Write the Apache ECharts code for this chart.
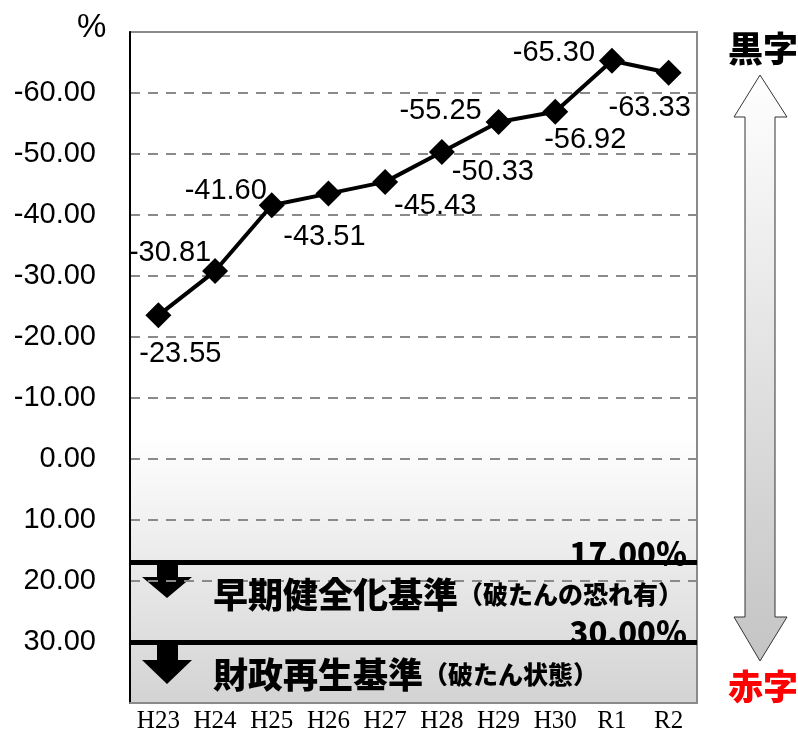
<!DOCTYPE html>
<html><head><meta charset="utf-8">
<script src="https://cdn.jsdelivr.net/npm/echarts@6/dist/echarts.min.js"></script>
<style>html,body{margin:0;padding:0;background:#fff}#c{width:798px;height:735px}</style>
</head><body><div id="c"></div>
<script>
const categories = ['H23','H24','H25','H26','H27','H28','H29','H30','R1','R2'];
const ratios = [-23.55,-30.81,-41.60,-43.51,-45.43,-50.33,-55.25,-56.92,-65.30,-63.33];
const thresholds = [17, 30];
const thresholdLabels = ['17.00％','30.00％'];
const bandTitles = ['早期健全化基準','財政再生基準'];
const bandNotes = ['（破たんの恐れ有）','（破たん状態）'];
const yMin = -70, yMax = 40, yStep = 10;

const labelOffsets = [[22,39],[-45,-18],[-46,-14],[-4,43],[50,24],[51,20],[-58,-11],[30,28],[-58,-8],[-19,35]];

const numFont = '"Liberation Sans", Arial, sans-serif';
const jpFont = '"Noto Sans CJK JP", sans-serif';

const chart = echarts.init(document.getElementById('c'));
chart.setOption({
  animation: false,
  grid: {left:130, top:32, right:101, bottom:32, show:true, borderColor:'#8a8a8a', borderWidth:2,
    backgroundColor: new echarts.graphic.LinearGradient(0,0,0,1,[
      {offset:0,color:'#ffffff'},{offset:0.6,color:'#ffffff'},{offset:1,color:'#d3d3d3'}])},
  xAxis: {type:'category', data:categories, boundaryGap:true,
    axisLine:{onZero:false, lineStyle:{color:'#8a8a8a', width:2}},
    axisTick:{inside:true, length:6, interval:0, lineStyle:{color:'#8a8a8a', width:1.5}},
    axisLabel:{color:'#000', fontFamily:'"Liberation Serif", serif', fontSize:25, margin:6, interval:0}},
  yAxis: {type:'value', inverse:true, min:yMin, max:yMax, interval:yStep,
    axisLine:{show:true, lineStyle:{color:'#000', width:2}},
    axisTick:{show:false},
    splitLine:{lineStyle:{color:'#8a8a8a', width:2, type:[10,8]}},
    axisLabel:{color:'#000', fontFamily:numFont, fontSize:29, margin:34,
      formatter: v => (v===yMin||v===yMax) ? '' : v.toFixed(2)}},
  series: [{
    type:'line',
    data: ratios.map((v,i)=>({value:v, label:{offset:labelOffsets[i]}})),
    symbol:'diamond', symbolSize:26,
    lineStyle:{color:'#000', width:4}, itemStyle:{color:'#000'},
    label:{show:true, position:'inside', color:'#000', fontFamily:numFont, fontSize:29,
      formatter: p => p.value.toFixed(2)},
    z:5,
    markLine:{silent:true, symbol:['none','none'],
      lineStyle:{color:'#000', width:5, type:'solid'},
      data: thresholds.map((t,i)=>({yAxis:t, label:{formatter:thresholdLabels[i]}})),
      label:{show:true, position:'insideEndTop', distance:[10,-6], color:'#000',
        fontFamily:jpFont, fontWeight:900, fontSize:31}},
    markArea:{silent:true,
      itemStyle:{color:'rgba(0,0,0,0)'},
      label:{show:true, position:'insideLeft', offset:[78,-6],
        rich:{t:{fontFamily:jpFont, fontWeight:900, fontSize:35, color:'#000'},
              n:{fontFamily:jpFont, fontWeight:900, fontSize:25, color:'#000'}}},
      data:[
        [{yAxis:thresholds[0], label:{formatter:'{t|'+bandTitles[0]+'}{n|'+bandNotes[0]+'}', offset:[78,-8]}},{yAxis:thresholds[1]}],
        [{yAxis:thresholds[1], label:{formatter:'{t|'+bandTitles[1]+'}{n|'+bandNotes[1]+'}', offset:[78,2]}},{yAxis:yMax}]
      ]}
  }],
  graphic: [
    {type:'text', left:77, top:11, style:{text:'%', font:'33px '+numFont, fill:'#000'}},
    {type:'polygon', shape:{points:[[157,562],[178,562],[178,577],[192,577],[167,598],[142,577],[157,577]]}, style:{fill:'#000'}},
    {type:'polygon', shape:{points:[[157,645],[178,645],[178,660],[192,660],[167,684],[142,660],[157,660]]}, style:{fill:'#000'}},
    {type:'polygon', shape:{points:[[760,75],[787,117],[775,117],[775,617],[787,617],[760,661],[734,617],[745,617],[745,117],[734,117]]},
      style:{fill:new echarts.graphic.LinearGradient(0,0,0,1,[{offset:0,color:'#ffffff'},{offset:1,color:'#c4c4c4'}]), stroke:'#333', lineWidth:1}},
    {type:'text', left:728, top:31, style:{text:'黒字', font:'900 35px '+jpFont, fill:'#000'}},
    {type:'text', left:728, top:669, style:{text:'赤字', font:'900 35px '+jpFont, fill:'#ff0000'}}
  ]
});
</script></body></html>
